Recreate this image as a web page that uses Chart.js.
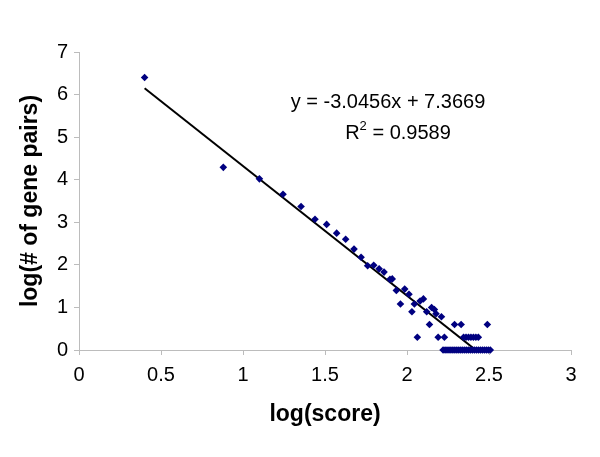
<!DOCTYPE html>
<html>
<head>
<meta charset="utf-8">
<script src="https://cdn.jsdelivr.net/npm/chart.js@4"></script>
<style>
  body { margin: 0; background: #fff; }
  canvas { display: block; }
</style>
</head>
<body>
<canvas id="chart" width="600" height="457"></canvas>
<script>
// log(score) / log(# of gene pairs)
const logScore = [
  0.40, 0.88, 1.10, 1.244, 1.354, 1.439, 1.51, 1.571, 1.626, 1.677,
  1.72, 1.76, 1.797, 1.83, 1.86, 1.896, 1.91, 1.935, 1.96, 1.986,
  2.012, 2.03, 2.045, 2.08, 2.10, 2.063, 2.12, 2.137, 2.15, 2.167,
  2.177, 2.21, 2.19, 2.228, 2.29, 2.33, 2.49,
  2.345, 2.36, 2.375, 2.39, 2.405, 2.42, 2.435,
  2.22, 2.232, 2.244, 2.256, 2.268, 2.28, 2.292, 2.304, 2.316, 2.328,
  2.34, 2.352, 2.364, 2.376, 2.388, 2.40, 2.412, 2.424, 2.436, 2.448,
  2.46, 2.472, 2.484, 2.496, 2.508
];
const logPairs = [
  6.40, 4.29, 4.02, 3.66, 3.37, 3.07, 2.95, 2.745, 2.60, 2.37,
  2.18, 1.98, 1.99, 1.906, 1.83, 1.66, 1.67, 1.40, 1.08, 1.43,
  1.31, 0.90, 1.08, 1.15, 1.20, 0.30, 0.90, 0.60, 1.00, 0.95,
  0.85, 0.78, 0.30, 0.30, 0.60, 0.60, 0.60,
  0.30, 0.30, 0.30, 0.30, 0.30, 0.30, 0.30,
  0, 0, 0, 0, 0, 0, 0, 0, 0, 0,
  0, 0, 0, 0, 0, 0, 0, 0, 0, 0,
  0, 0, 0, 0, 0
];

// linear trendline as printed on the chart
const slope = -3.0456;
const intercept = 7.3669;
const rSquared = 0.9589;
const trendRange = [0.40, 2.51];

const xTicks = [0, 0.5, 1, 1.5, 2, 2.5, 3];
const yTicks = [0, 1, 2, 3, 4, 5, 6, 7];

const points = logScore.map((x, i) => ({ x: x, y: logPairs[i] }));
const trend = trendRange.map(x => ({ x: x, y: slope * x + intercept }));

const FONT = "'Liberation Sans', Arial, sans-serif";
const axisGray = '#bcbcbc';

const equationLabel = {
    id: 'equationLabel',
    afterDraw(chart) {
        const ctx = chart.ctx;
        ctx.save();
        ctx.fillStyle = '#000';
        ctx.textBaseline = 'alphabetic';
        ctx.font = '20px ' + FONT;
        ctx.textAlign = 'center';
        const sign = intercept >= 0 ? ' + ' : ' - ';
        ctx.fillText('y = ' + slope + 'x' + sign + Math.abs(intercept), 388, 108);

        // R² with a raised small 2
        ctx.textAlign = 'left';
        const rest = ' = ' + rSquared;
        const wR = ctx.measureText('R').width;
        const wRest = ctx.measureText(rest).width;
        ctx.font = '13px ' + FONT;
        const w2 = ctx.measureText('2').width;
        let x = 398 - (wR + w2 + wRest) / 2;
        ctx.font = '20px ' + FONT;
        ctx.fillText('R', x, 139);
        ctx.font = '13px ' + FONT;
        ctx.fillText('2', x + wR, 130);
        ctx.font = '20px ' + FONT;
        ctx.fillText(rest, x + wR + w2, 139);
        ctx.restore();
    }
};

new Chart(document.getElementById('chart'), {
    type: 'scatter',
    data: {
        datasets: [{
            label: 'pairs',
            data: points,
            pointStyle: 'rectRot',
            pointRadius: 3.8,
            pointBorderWidth: 0,
            backgroundColor: '#000080',
            borderColor: '#000080',
            clip: false
        }, {
            label: 'trend',
            data: trend,
            showLine: true,
            borderColor: '#000',
            borderWidth: 2,
            pointRadius: 0
        }]
    },
    options: {
        responsive: false,
        animation: false,
        layout: { padding: { top: 52, right: 29, left: 0, bottom: 0 } },
        plugins: {
            legend: { display: false },
            tooltip: { enabled: false }
        },
        scales: {
            x: {
                type: 'linear',
                min: 0,
                max: 3,
                afterFit: s => { s.height = 107; },
                afterBuildTicks: s => { s.ticks = xTicks.map(v => ({ value: v })); },
                grid: { drawOnChartArea: false, drawTicks: true, tickLength: 5, color: axisGray },
                border: { color: axisGray },
                ticks: {
                    color: '#000',
                    font: { family: FONT, size: 20 },
                    padding: 8,
                    maxRotation: 0,
                    callback: v => String(v)
                },
                title: {
                    display: true,
                    text: 'log(score)',
                    color: '#000',
                    font: { family: FONT, size: 23, weight: 'bold' },
                    padding: { top: 0, bottom: 29 }
                }
            },
            y: {
                type: 'linear',
                min: 0,
                max: 7,
                afterFit: s => { s.width = 79; },
                afterBuildTicks: s => { s.ticks = yTicks.map(v => ({ value: v })); },
                grid: { drawOnChartArea: false, drawTicks: true, tickLength: 5, color: axisGray },
                border: { color: axisGray },
                ticks: {
                    color: '#000',
                    font: { family: FONT, size: 20 },
                    padding: 6,
                    callback: v => String(v)
                },
                title: {
                    display: true,
                    text: 'log(# of gene pairs)',
                    color: '#000',
                    font: { family: FONT, size: 23, weight: 'bold' },
                    padding: { top: 17, bottom: 0 }
                }
            }
        }
    },
    plugins: [equationLabel]
});
</script>
</body>
</html>
